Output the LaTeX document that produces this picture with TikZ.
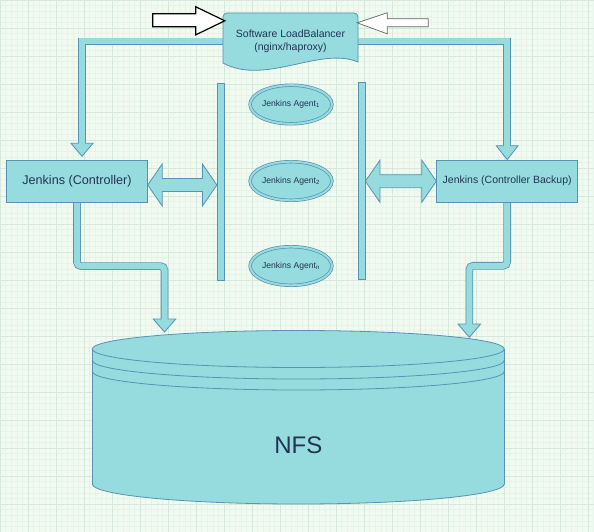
\documentclass[tikz,border=0pt]{standalone}
\usepackage{fontspec}
\setmainfont{Liberation Sans}
\usetikzlibrary{calc,shapes.geometric}
\pgfdeclarelayer{bg}
\pgfsetlayers{bg,main}
\definecolor{bgc}{RGB}{240,250,239}
\definecolor{gridminor}{RGB}{229,243,232}
\definecolor{gridmajor}{RGB}{214,231,219}
\definecolor{fillc}{RGB}{150,220,222}
\definecolor{strokec}{RGB}{88,146,180}
\definecolor{textc}{RGB}{34,52,84}
\newcommand\dblarrow[2]{\draw[headst] (#1) -- ($(#1)+(14.5,-21)$) -- ($(#1)+(14.5,-6.5)$) -- ($(#2)+(-14.5,-6.5)$) -- ($(#2)+(-14.5,-21)$) -- (#2) -- ($(#2)+(-14.5,21)$) -- ($(#2)+(-14.5,6.5)$) -- ($(#1)+(14.5,6.5)$) -- ($(#1)+(14.5,21)$) -- cycle;}
\begin{document}
\begin{tikzpicture}[x=1pt,y=-1pt,
 box/.style={draw=strokec, fill=fillc, line width=0.8pt, minimum width=140.6pt, minimum height=42pt, inner sep=0pt, text=textc},
 agent/.style={ellipse, draw=strokec, double=fillc, double distance=2pt, line width=0.7pt, fill=fillc, minimum width=68.6pt, minimum height=38.6pt, inner sep=0pt, text=textc, font=\fontsize{8.6}{10}\selectfont},
 bar/.style={draw=strokec, fill=fillc, line width=0.8pt, minimum width=7pt, minimum height=197pt, inner sep=0pt},
 shapeline/.style={draw=strokec, fill=fillc, line width=0.8pt},
 outline/.style={draw=strokec, line width=0.8pt},
 bandout/.style={draw=strokec, line width=7.6pt},
 bandin/.style={draw=fillc, line width=6pt},
 headst/.style={fill=fillc, draw=strokec, line width=0.8pt, line join=miter},
 hollowblack/.style={fill=white, draw=black, line width=1.2pt, line join=miter},
 hollowgray/.style={fill=white, draw=black!60, line width=0.7pt, line join=miter}]
\useasboundingbox (0,0) rectangle (594,532);
\begin{pgfonlayer}{bg}
\fill[bgc] (0,0) rectangle (594,532);
\foreach \i in {0,...,106} {\draw[gridminor, line width=0.4pt] ({\i*5.6},0) -- ({\i*5.6},532);}
\foreach \i in {0,...,95} {\draw[gridminor, line width=0.4pt] (0,{\i*5.6}) -- (594,{\i*5.6});}
\foreach \i in {0,...,21} {\draw[gridmajor, line width=0.5pt] ({\i*28},0) -- ({\i*28},532);}
\foreach \i in {0,...,19} {\draw[gridmajor, line width=0.5pt] (0,{\i*28}) -- (594,{\i*28});}
\end{pgfonlayer}

% load balancer
\draw[shapeline] (223,63) -- (223,17) .. controls (223,14.8) and (224.8,13) .. (227,13) -- (354,13) .. controls (356.2,13) and (358,14.8) .. (358,17) -- (358,62) .. controls (320,46) and (265,86) .. (223,63) -- cycle;
\node[text=textc, font=\fontsize{10.5}{13}\selectfont, align=center, minimum width=135pt, minimum height=57pt, inner sep=0pt] (lb) at (290.5,41.5) {Software LoadBalancer\\(nginx/haproxy)};

% controllers
\node[box, font=\fontsize{12.6}{15}\selectfont] (ctrl) at (77,181.7) {Jenkins (Controller)};
\node[box, minimum width=141pt, minimum height=42.3pt, font=\fontsize{10.5}{13}\selectfont] (bkp) at (507.2,181.2) {Jenkins (Controller Backup)};

% bars
\node[bar] (barL) at (220.8,181.5) {};
\node[bar] (barR) at (361.5,180.5) {};

% agents
\node[agent] (a1) at (291,104.5) {Jenkins Agent\textsubscript{1}};
\node[agent] (a2) at (291,181) {Jenkins Agent\textsubscript{2}};
\node[agent] (an) at (291,266) {Jenkins Agent\textsubscript{n}};

% NFS cylinder
\fill[fillc] (92.3,349) rectangle (504.3,484);
\fill[fillc] (298.3,484) ellipse [x radius=206, y radius=20];
\begin{scope}
\clip (80,484) rectangle (520,515);
\draw[outline] (298.3,484) ellipse [x radius=206, y radius=20];
\end{scope}
\draw[outline] (92.3,349) -- (92.3,484);
\draw[outline] (504.3,349) -- (504.3,484);
\draw[shapeline] (298.3,349) ellipse [x radius=206, y radius=18.5];
\begin{scope}
\clip (80,360.5) rectangle (520,400);
\draw[outline] (298.3,360.5) ellipse [x radius=206, y radius=18.5];
\end{scope}
\begin{scope}
\clip (80,371.5) rectangle (520,410);
\draw[outline] (298.3,371.5) ellipse [x radius=206, y radius=18.5];
\end{scope}
\node[text=textc, font=\fontsize{24}{28}\selectfont] (nfs) at (298.3,445) {NFS};

% incoming arrows to load balancer
\coordinate (lbin) at ($(lb.north west)+(2,8)$);
\coordinate (srcL) at ($(lbin)+(-72,0)$);
\draw[hollowblack] ($(srcL)+(0,-7)$) -- ($(lbin)+(-29,-7)$) -- ($(lbin)+(-29,-14)$) -- (lbin) -- ($(lbin)+(-29,14)$) -- ($(lbin)+(-29,6)$) -- ($(srcL)+(0,6)$) -- cycle;
\coordinate (lbin2) at ($(lb.north east)+(-1,10)$);
\coordinate (srcR) at ($(lbin2)+(71,0)$);
\draw[hollowgray] (lbin2) -- ($(lbin2)+(30,-10)$) -- ($(lbin2)+(30,-4)$) -- ($(srcR)+(0,-4)$) -- ($(srcR)+(0,4)$) -- ($(lbin2)+(30,4)$) -- ($(lbin2)+(30,11)$) -- cycle;

% connectors
\coordinate (tA) at ($(ctrl.north)+(5,-4)$);
\coordinate (tB) at (bkp.north);
\coordinate (nA) at (164.5,332);
\coordinate (nB) at (469.3,337.3);
\coordinate (dA) at ($(ctrl.east)+(0,3.3)$);
\coordinate (dB) at (barL.west |- dA);
\coordinate (dC) at (barR.east |- bkp.west);
\begin{pgfonlayer}{bg}
\draw[bandout] (lb.west) -- (lb.west -| tA) -- ($(tA)+(0,-13)$);
\draw[headst] ($(tA)+(-11,-13)$) -- (tA) -- ($(tA)+(11,-13)$) -- cycle;
\draw[bandin] (lb.west) -- (lb.west -| tA) -- ($(tA)+(0,-12)$);

\draw[bandout] (lb.east) -- (lb.east -| tB) -- ($(tB)+(0,-14)$);
\draw[headst] ($(tB)+(-11,-14)$) -- (tB) -- ($(tB)+(11,-14)$) -- cycle;
\draw[bandin] (lb.east) -- (lb.east -| tB) -- ($(tB)+(0,-13)$);

\draw[bandout, rounded corners=4pt] (ctrl.south) -- ++(0,63) -| ($(nA)+(0,-13)$);
\draw[headst] ($(nA)+(-11.3,-13)$) -- (nA) -- ($(nA)+(11.3,-13)$) -- cycle;
\draw[bandin, rounded corners=4pt] (ctrl.south) -- ++(0,63) -| ($(nA)+(0,-12)$);

\draw[bandout, rounded corners=4pt] (bkp.south) -- ++(0,63) -| ($(nB)+(0,-13.3)$);
\draw[headst] ($(nB)+(-11.3,-13.3)$) -- (nB) -- ($(nB)+(11.3,-13.3)$) -- cycle;
\draw[bandin, rounded corners=4pt] (bkp.south) -- ++(0,63) -| ($(nB)+(0,-12.3)$);

\dblarrow{dA}{dB}
\dblarrow{dC}{bkp.west}
\end{pgfonlayer}
\end{tikzpicture}
\end{document}
